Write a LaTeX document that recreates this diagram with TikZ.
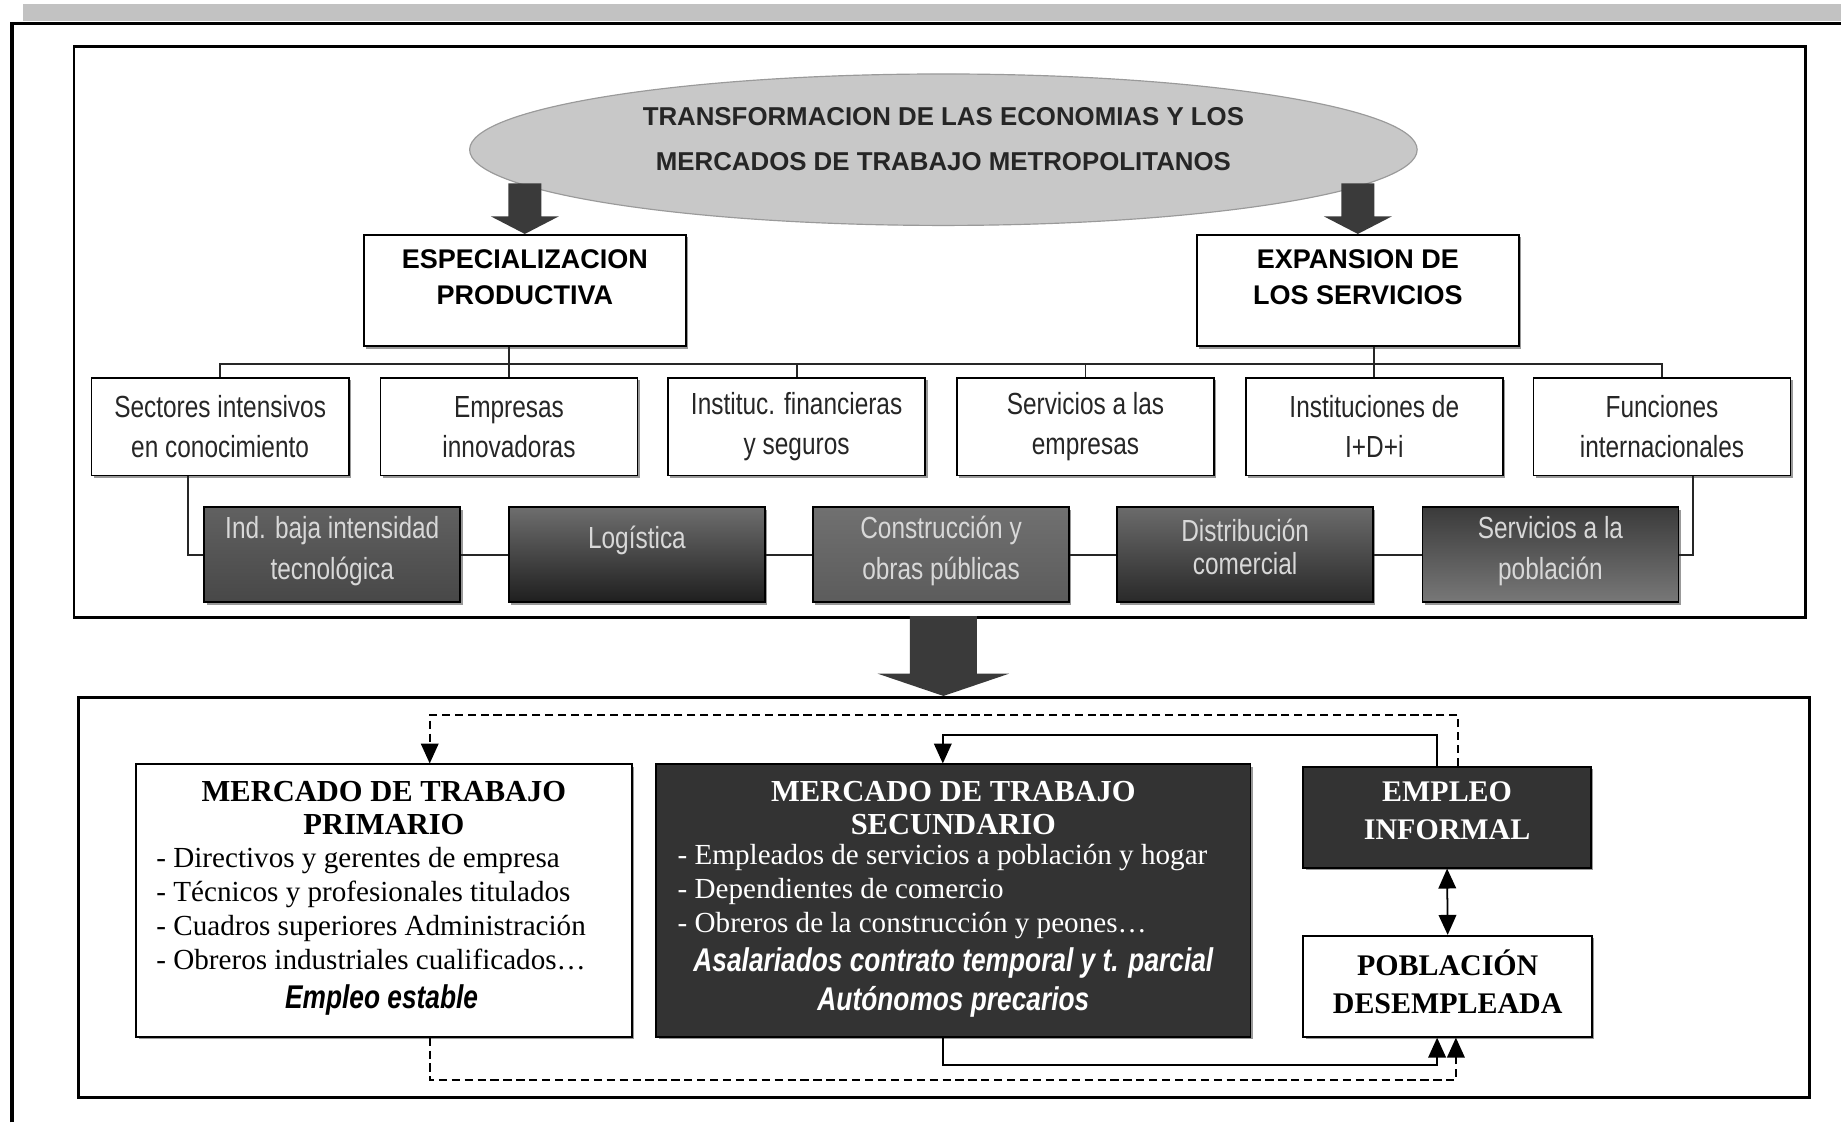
\documentclass[tikz,border=0pt]{standalone}
\usepackage{fontspec}
\setmainfont{Liberation Serif}
\newfontfamily\sansf{Liberation Sans}
\newfontfamily\narrowf{Liberation Sans}[FakeStretch=0.8]
\usetikzlibrary{arrows.meta,shadows,shapes.geometric,calc}
\definecolor{ellfill}{HTML}{C8C8C8}
\definecolor{ellline}{HTML}{9A9A9A}
\definecolor{darkbox}{HTML}{333333}
\definecolor{fatarrow}{HTML}{3A3A3A}
\definecolor{lighttext}{HTML}{D8D8D8}
\definecolor{bandgray}{HTML}{C2C2C2}
\begin{document}
\begin{tikzpicture}[x=1pt,y=-1pt,
  frame/.style={draw=black,line width=2.5pt,inner sep=0pt},
  shadowed/.style={drop shadow={shadow xshift=2pt,shadow yshift=-2pt,fill=black!40,opacity=1}},
  headbox/.style={draw=black,line width=1.5pt,fill=white,shadowed,minimum width=274pt,minimum height=95pt,inner sep=0pt},
  headtxt/.style={font=\sansf\bfseries\fontsize{23}{30}\selectfont,align=center},
  rowone/.style={draw=black,line width=1.5pt,fill=white,shadowed,minimum width=219pt,minimum height=83pt,inner sep=0pt,
     font=\narrowf\fontsize{26}{34}\selectfont,align=center,text=black!85},
  rowtwo/.style={draw=black,line width=1.5pt,shadowed,minimum width=218pt,minimum height=81pt,inner sep=0pt},
  rowtwotxt/.style={font=\narrowf\fontsize{26}{35}\selectfont,align=center,text=lighttext},
  tree/.style={draw=black!85,line width=1.5pt},
  fat/.style={fill=fatarrow},
  mktbox/.style={draw=black,line width=1.5pt,shadowed,inner sep=0pt},
  mkttitle/.style={font=\bfseries\fontsize{26}{28}\selectfont,align=center},
  mktitems/.style={font=\fontsize{24.8}{29}\selectfont,align=left,anchor=west,inner sep=0pt},
  mktemph/.style={font=\narrowf\bfseries\itshape\fontsize{28}{33}\selectfont,align=center},
  smallttl/.style={font=\bfseries\fontsize{25.5}{32.5}\selectfont,align=center},
  conn/.style={draw=black,line width=1.5pt},
  dashconn/.style={draw=black,line width=1.5pt,dash pattern=on 7pt off 4pt},
  tip/.style={-{Triangle[length=17pt,width=15pt]}},
  dtip/.style={{Triangle[length=17pt,width=15pt]}-{Triangle[length=17pt,width=15pt]}}
]
\useasboundingbox (0,0) rectangle (1568,956);
% outer frame
\fill[bandgray] (20,3) rectangle (1568,18);
\draw[line width=3pt] (10,956) -- (10,20) -- (1568,20);

% top frame
\node[frame,minimum width=1475pt,minimum height=486pt] (topframe) at (800.5,283) {};

% ellipse
\node[ellipse,draw=ellline,fill=ellfill,line width=1pt,minimum width=807pt,minimum height=129pt,inner sep=0pt] (ell) at (803.5,127.5) {};
\node[font=\sansf\bfseries\fontsize{22}{39}\selectfont,align=center,text=black!85] (ellTxt) at (803.5,118.5)
  {TRANSFORMACION DE LAS ECONOMIAS Y LOS\\MERCADOS DE TRABAJO METROPOLITANOS};

% head boxes
\node[headbox] (espec) at (447,247.5) {};
\node[headtxt] (especTxt) at (447,236) {ESPECIALIZACION\\PRODUCTIVA};
\node[headbox] (expan) at (1156.5,247.5) {};
\node[headtxt] (expanTxt) at (1156.5,236) {EXPANSION DE\\LOS SERVICIOS};

\fill[fat] (espec.north) -- ++(-29,-15) -- ++(15,0) -- ++(0,-28) -- ++(28,0) -- ++(0,28) -- ++(15,0) -- cycle;
\fill[fat] (expan.north) -- ++(-29,-15) -- ++(15,0) -- ++(0,-28) -- ++(28,0) -- ++(0,28) -- ++(15,0) -- cycle;

% row one
\node[rowone] (sect) at (187.5,363.5) {Sectores intensivos\\en conocimiento};
\node[rowone] (empr) at (433.5,363.5) {Empresas\\innovadoras};
\node[rowone] (inst) at (678.5,363.5) {Instituc. financieras\\y seguros};
\node[rowone] (serv) at (924.5,363.5) {Servicios a las\\empresas};
\node[rowone] (idi) at (1170.5,363.5) {Instituciones de\\I+D+i};
\node[rowone] (func) at (1415.5,363.5) {Funciones\\internacionales};

\coordinate (bus) at (0,310);
\draw[tree] (sect.north) |- (bus -| func.north) -- (func.north);
\draw[tree] (espec.south -| empr.north) -- (empr.north);
\draw[tree] (expan.south -| idi.north) -- (idi.north);
\draw[tree] (bus -| inst.north) -- (inst.north);
\draw[tree] (bus -| serv.north) -- (serv.north);

% row two
\node[rowtwo,top color=black!62,bottom color=black!72] (ind) at (283,472.5) {};
\node[rowtwo,top color=black!57,bottom color=black!88] (logi) at (542.5,472.5) {};
\node[rowtwo,top color=black!56,bottom color=black!64] (cons) at (801.5,472.5) {};
\node[rowtwo,top color=black!58,bottom color=black!84] (dist) at (1060.5,472.5) {};
\node[rowtwo,top color=black!77,bottom color=black!53] (pobl) at (1320.5,472.5) {};
\node[rowtwotxt] (indTxt) at (283,469.5) {Ind. baja intensidad\\tecnológica};
\node[rowtwotxt] (logiTxt) at (542.5,460) {Logística};
\node[rowtwotxt] (consTxt) at (801.5,469.5) {Construcción y\\obras públicas};
\node[rowtwotxt,font=\narrowf\fontsize{26}{28}\selectfont] (distTxt) at (1060.5,466) {Distribución\\comercial};
\node[rowtwotxt] (poblTxt) at (1320.5,469.5) {Servicios a la\\población};

\coordinate (xsect) at (160,0);
\coordinate (xfunc) at (1442,0);
\draw[tree] (sect.south -| xsect) |- (ind.west);
\draw[tree] (ind.east) -- (logi.west);
\draw[tree] (logi.east) -- (cons.west);
\draw[tree] (cons.east) -- (dist.west);
\draw[tree] (dist.east) -- (pobl.west);
\draw[tree] (pobl.east) -| (func.south -| xfunc);

% bottom frame
\node[frame,minimum width=1474pt,minimum height=341pt] (botframe) at (804,764.5) {};

% big arrow
\fill[fat] (ell.south |- botframe.north) -- ++(-56,-19) -- ++(27.5,0) -- ++(0,-49) -- ++(57,0) -- ++(0,49) -- ++(27.5,0) -- cycle;

% markets
\node[mktbox,fill=white,minimum width=422pt,minimum height=232pt] (mtp) at (327,767) {};
\node[mkttitle] (mtpTitle) at (327,688) {MERCADO DE TRABAJO\\PRIMARIO};
\node[mktitems] (mtpItems) at (133,773.5) {- Directivos y gerentes de empresa\\- Técnicos y profesionales titulados\\- Cuadros superiores Administración\\- Obreros industriales cualificados\ldots};
\node[mktemph] (mtpEmph) at (325,852) {Empleo estable};

\node[mktbox,fill=darkbox,minimum width=506pt,minimum height=232pt] (mts) at (812,767) {};
\node[mkttitle,text=white] (mtsTitle) at (812,688) {MERCADO DE TRABAJO\\SECUNDARIO};
\node[mktitems,text=white] (mtsItems) at (577,759) {- Empleados de servicios a población y hogar\\- Dependientes de comercio\\- Obreros de la construcción y peones\ldots};
\node[mktemph,text=white] (mtsEmph) at (812,836.5) {Asalariados contrato temporal y t. parcial\\Autónomos precarios};

\node[mktbox,fill=darkbox,minimum width=245pt,minimum height=86pt] (emp) at (1232.5,696) {};
\node[smallttl,text=white] (empTxt) at (1232.5,690.5) {EMPLEO\\INFORMAL};
\node[mktbox,fill=white,minimum width=246pt,minimum height=86pt] (pob) at (1233,840) {};
\node[smallttl] (pobTxt) at (1233,836) {POBLACIÓN\\DESEMPLEADA};

% connectors
\coordinate (dashTop) at (0,609);
\coordinate (solTop) at (0,626);
\coordinate (solBot) at (0,907);
\coordinate (dashBot) at (0,920);
\coordinate (xd) at (1242,0);
\coordinate (xs) at (1224,0);
\coordinate (xd2) at (1240,0);
\coordinate (xmtp) at (366,0);
\coordinate (xmts) at (803,0);

\draw[dashconn,tip] (emp.north -| xd) |- (dashTop -| xmtp) -- (mtp.north -| xmtp);
\draw[conn,tip] (emp.north -| xs) |- (solTop -| xmts) -- (mts.north -| xmts);
\draw[conn,tip] (mts.south -| xmts) |- (solBot -| xs) -- (pob.south -| xs);
\draw[dashconn,tip] (mtp.south -| xmtp) |- (dashBot -| xd2) -- (pob.south -| xd2);
\draw[conn,dtip] (emp.south) -- (pob.north);
\end{tikzpicture}
\end{document}
